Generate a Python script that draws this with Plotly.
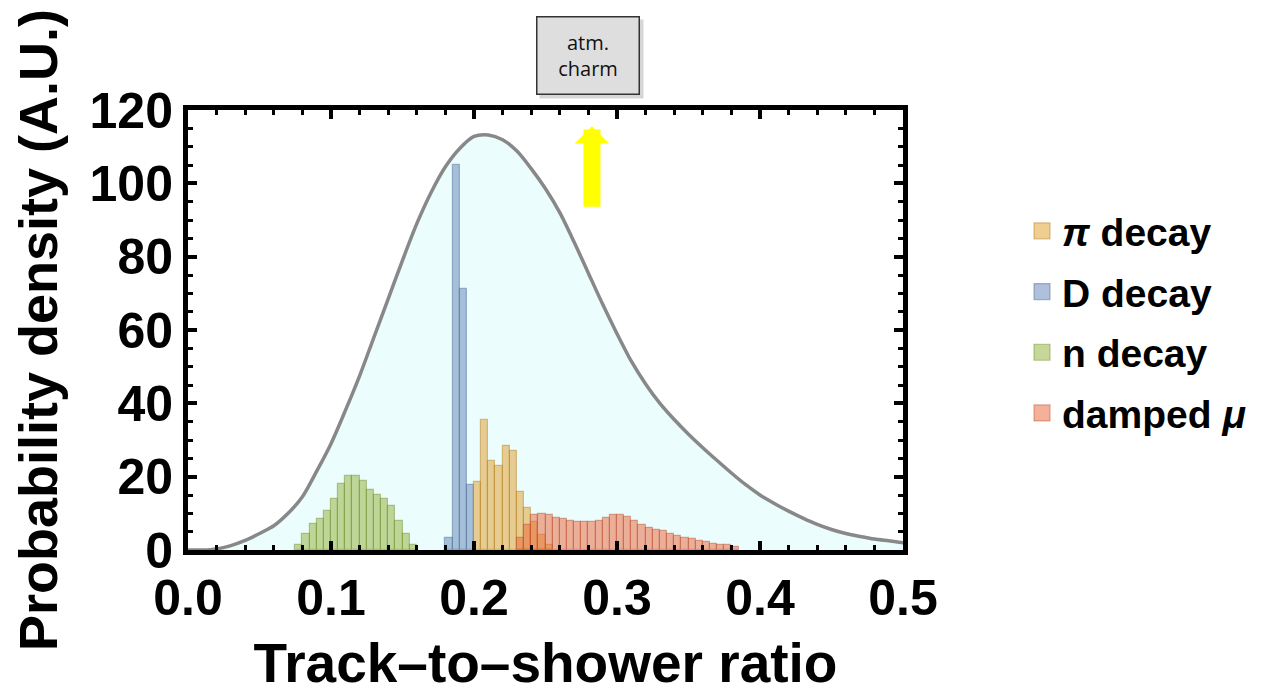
import plotly.graph_objects as go

# ---------------- data ----------------
curve_x = [0.00, 0.01, 0.02, 0.03, 0.04, 0.05, 0.06, 0.07, 0.08, 0.09,
           0.10, 0.11, 0.12, 0.13, 0.14, 0.15, 0.16, 0.17, 0.18, 0.19,
           0.20, 0.21, 0.22, 0.23, 0.24, 0.25, 0.26, 0.27, 0.28, 0.29,
           0.30, 0.31, 0.32, 0.33, 0.34, 0.35, 0.36, 0.37, 0.38, 0.39,
           0.40, 0.41, 0.42, 0.43, 0.44, 0.45, 0.46, 0.47, 0.48, 0.49, 0.50]
curve_y = [0.0, 0.0, 0.3, 1.2, 2.6, 4.5, 6.6, 10.0, 14.5, 21.5,
           29.0, 38.0, 47.5, 58.0, 68.5, 79.0, 89.0, 97.5, 104.5, 109.5,
           112.8, 113.2, 111.9, 108.8, 104.0, 98.5, 92.0, 84.0, 75.5, 67.0,
           59.0, 51.5, 45.3, 40.0, 35.6, 31.6, 27.9, 24.4, 21.0, 17.8,
           15.0, 12.7, 10.6, 8.7, 7.0, 5.6, 4.5, 3.7, 3.0, 2.5, 2.0]

bin_width = 0.005

pi_start = 0.200
pi_values = [18.5, 35.5, 24.4, 22.9, 28.4, 27.0, 15.8, 11.4, 7.7, 4.1, 1.4]

d_start = 0.180
d_values = [3.3, 105.1, 71.1, 17.7]

n_start = 0.075
n_values = [1.4, 4.3, 7.0, 8.5, 10.6, 13.9, 18.0, 20.3, 20.3, 18.8, 16.5,
            15.0, 13.9, 12.1, 7.9, 4.3, 1.4]

mu_start = 0.230
mu_values = [3.2, 6.7, 9.5, 9.8, 9.6, 8.7, 8.4, 8.0, 7.6, 7.6, 7.6, 8.0,
             8.7, 9.5, 9.5, 9.1, 8.0, 6.9, 5.9, 5.5, 5.1, 4.4, 3.8, 3.2,
             2.9, 2.5, 2.1, 1.6, 1.5, 1.4, 0.8]

x_ticks = [0.0, 0.1, 0.2, 0.3, 0.4, 0.5]
y_ticks = [0, 20, 40, 60, 80, 100, 120]

FONT = "Liberation Sans"
OFF = 8                      # page body margin of the browser
W, H = 1274 - OFF, 694 - OFF
ML, MR, MT, MB = 188 - OFF, 371, 110 - OFF, 144
PW, PH = W - ML - MR, H - MT - MB


def centers(start, values):
    return [start + bin_width * (i + 0.5) for i in range(len(values))]


def px_to_paper(px, py):
    """window pixel -> paper coordinate"""
    return (px - OFF - ML) / PW, (H - MB - (py - OFF)) / PH


fig = go.Figure()

# atmospheric charm curve with fill (base subplot)
fig.add_trace(go.Scatter(
    x=curve_x, y=curve_y, mode="lines",
    line=dict(color="#888888", width=3.5, shape="spline", smoothing=0.8),
    fill="tozeroy", fillcolor="#EBFDFD", showlegend=False, hoverinfo="skip"))

# histograms on an overlaid subplot so they sit above the filled curve
series = [
    ("n decay", n_start, n_values, (143, 176, 50), 3),
    ("D decay", d_start, d_values, (94, 129, 181), 2),
    ("<i>π</i> decay", pi_start, pi_values, (225, 156, 36), 1),
    ("damped <i>μ</i>", mu_start, mu_values, (235, 98, 53), 4),
]
for name, start, vals, (r, g, b), rank in series:
    fill = f"rgba({r},{g},{b},0.5)"
    edge = f"rgba({int(r*0.8)},{int(g*0.8)},{int(b*0.8)},0.45)"
    fig.add_trace(go.Bar(
        x=centers(start, vals), y=vals, width=bin_width, name=name,
        xaxis="x2", yaxis="y2", legendgroup=name, showlegend=False,
        marker=dict(color=fill, line=dict(color=edge, width=1.2))))
    # legend entry (larger square swatch) for the same series
    fig.add_trace(go.Scatter(
        x=[None], y=[None], mode="markers", name=name,
        xaxis="x2", yaxis="y2", legendgroup=name, legendrank=rank,
        marker=dict(symbol="square", size=16, color=fill, line=dict(color=edge, width=1.2))))

axis_common = dict(
    showline=True, linecolor="black", linewidth=5, mirror="allticks",
    ticks="inside", ticklen=9, tickwidth=4, tickcolor="black",
    showgrid=False, zeroline=False, automargin=False, layer="above traces",
    tickfont=dict(family=FONT, size=50, color="black", weight="bold"),
)

fig.update_layout(
    xaxis=dict(
        range=[0, 0.5], tickvals=x_ticks, tickformat=".1f",
        minor=dict(ticks="inside", dtick=0.02, ticklen=5, tickwidth=3, tickcolor="black"),
        ticklabelstandoff=0,
        title=dict(text="Track–to–shower ratio", standoff=24,
                   font=dict(family=FONT, size=55, color="black", weight="bold")),
        **axis_common),
    yaxis=dict(
        range=[0, 120], tickvals=y_ticks,
        minor=dict(ticks="inside", dtick=5, ticklen=5, tickwidth=3, tickcolor="black"),
        ticklabelstandoff=0,
        title=dict(text="Probability density (A.U.)", standoff=22,
                   font=dict(family=FONT, size=54, color="black", weight="bold")),
        **axis_common),
    xaxis2=dict(overlaying="x", anchor="y2", range=[0, 0.5], visible=False),
    yaxis2=dict(overlaying="y", anchor="x2", range=[0, 120], visible=False),
)

# yellow arrow pointing up
fig.add_annotation(
    x=0.2825, y=115.6, xref="x", yref="y", text="", showarrow=True,
    ax=0, ay=82, arrowhead=1, arrowsize=0.34, arrowwidth=17, arrowcolor="#FFFF00")

# shadow + box "atm. charm"
bx, by = px_to_paper(591, 59)
fig.add_annotation(
    x=bx, y=by, xref="paper", yref="paper",
    text="", showarrow=False, width=101, height=76,
    bgcolor="rgba(0,0,0,0.16)", xanchor="center", yanchor="middle")
bx, by = px_to_paper(588, 56)
fig.add_annotation(
    x=bx, y=by, xref="paper", yref="paper",
    text="atm.<br>charm", showarrow=False, width=99, height=74,
    font=dict(family="Open Sans", size=20, color="#111111"),
    bgcolor="#DEDEDE", bordercolor="#333333", borderwidth=1.5,
    xanchor="center", yanchor="middle")

lx, ly = px_to_paper(1022, 322)
fig.update_layout(
    width=W, height=H,
    margin=dict(l=ML, r=MR, t=MT, b=MB),
    paper_bgcolor="white", plot_bgcolor="white",
    barmode="overlay", bargap=0,
    legend=dict(x=lx, xanchor="left", y=ly, yanchor="middle",
                font=dict(family=FONT, size=39, color="black", weight="bold"),
                itemsizing="trace",
                tracegroupgap=7, bgcolor="rgba(0,0,0,0)"),
)

fig.write_html("out.html")
